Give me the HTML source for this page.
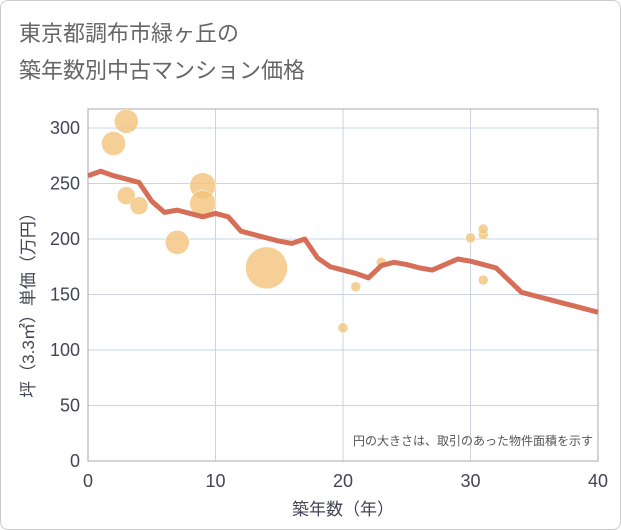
<!DOCTYPE html>
<html><head><meta charset="utf-8"><style>
body{margin:0;background:#fff}
#wrap{position:relative;width:619px;height:528px;border:1px solid #ccc;border-radius:8px;overflow:hidden;font-family:"Liberation Sans","Noto Sans CJK JP",sans-serif}
</style></head><body>
<div id="wrap">
<svg id="chart" width="621" height="530">
<text x="18" y="40" font-size="22" fill="#666" font-family="Liberation Sans,Noto Sans CJK JP,sans-serif">東京都調布市緑ヶ丘の</text>
<text x="18" y="77" font-size="22" fill="#666" font-family="Liberation Sans,Noto Sans CJK JP,sans-serif">築年数別中古マンション価格</text>
</svg>
</div>
<script>
const lineYears=[0,1,2,3,4,5,6,7,8,9,10,11,12,13,14,15,16,17,18,19,20,21,22,23,24,25,26,27,28,29,30,31,32,33,34,35,36,37,38,39,40];
const lineValues=[257,261,257,254,251,234,224,226,223,220,223,220,207,204,201,198,196,200,183,175,172,169,165,176,179,177,174,172,177,182,180,177,174,163,152,149,146,143,140,137,134];
const bubbleYears=[2,3,3,4,7,9,9,14,20,21,23,30,31,31,31];
const bubbleValues=[286,306,239,230,197,248,232,174,120,157,179,201,204,209,163];
const bubbleSizes=[12,12,9,9,12,13,13,21,5,5,5,5,5,5,5];
const xTicks=[0,10,20,30,40];
const yTicks=[0,50,100,150,200,250,300];
const NS="http://www.w3.org/2000/svg",svg=document.getElementById('chart');
const X0=87,X1=597,Y0=460,YT=108;
const xs=v=>X0+(X1-X0)*v/40, ys=v=>Y0-(Y0-127)*v/300;
function mk(t,a){const e=document.createElementNS(NS,t);for(const k in a)e.setAttribute(k,a[k]);svg.appendChild(e);return e;}
const F="Liberation Sans,Noto Sans CJK JP,sans-serif";
yTicks.forEach(v=>{const l=mk('line',{x1:X0,x2:X1,y1:ys(v),y2:ys(v),stroke:'#c9d5e3','stroke-width':1});

const t=mk('text',{x:X0-8,y:ys(v)+6,'text-anchor':'end','font-size':18,fill:'#445','font-family':F});t.textContent=v;
});
xTicks.forEach(v=>{const l=mk('line',{x1:xs(v),x2:xs(v),y1:YT,y2:Y0,stroke:'#c9d5e3','stroke-width':1});

const t=mk('text',{x:xs(v),y:Y0+26,'text-anchor':'middle','font-size':18,fill:'#445','font-family':F});t.textContent=v;
});
const fr=mk('rect',{x:X0,y:YT,width:X1-X0,height:Y0-YT,fill:'none',stroke:'#aaa','stroke-width':1});

bubbleYears.forEach((y,i)=>{const c=mk('circle',{cx:xs(y),cy:ys(bubbleValues[i]),r:bubbleSizes[i],fill:'#f3c37a','fill-opacity':0.8,stroke:'#fff','stroke-width':0.5});
});
const p=mk('polyline',{points:lineYears.map((y,i)=>xs(y)+','+ys(lineValues[i])).join(' '),fill:'none',stroke:'#d4664f','stroke-width':5,'stroke-linejoin':'round','stroke-opacity':0.95});

const n=mk('text',{x:592,y:444,'text-anchor':'end','font-size':12,fill:'#555','font-family':F});n.textContent='円の大きさは、取引のあった物件面積を示す';

const xt=mk('text',{x:342,y:514,'text-anchor':'middle','font-size':17,fill:'#445','font-family':F});xt.textContent='築年数（年）';

const yt=mk('text',{x:0,y:0,'text-anchor':'middle','font-size':17,fill:'#445','font-family':F,transform:'translate(33,300) rotate(-90)'});yt.textContent='坪（3.3㎡）単価（万円）';

</script>
</body></html>
